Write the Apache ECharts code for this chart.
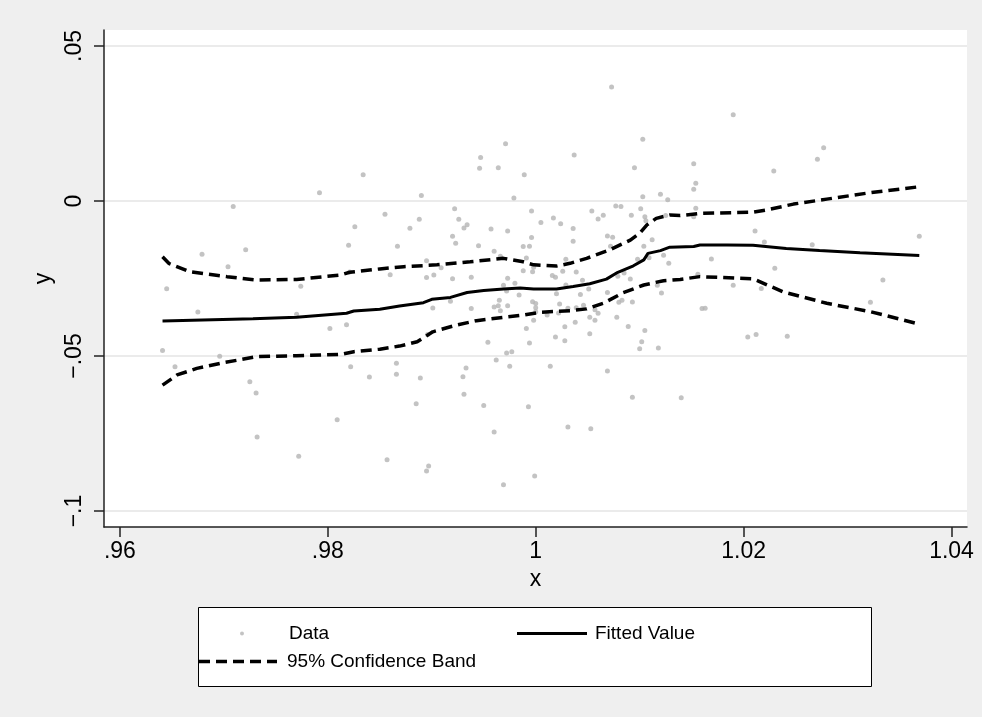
<!DOCTYPE html>
<html><head><meta charset="utf-8">
<script src="https://cdn.jsdelivr.net/npm/echarts@6/dist/echarts.min.js"></script>
<style>html,body{margin:0;padding:0;background:#efefef;}#c{width:982px;height:717px;}</style>
</head><body><div id="c"></div>
<script>
const xTicks = [0.96, 0.98, 1.00, 1.02, 1.04];
const yTicks = [-0.1, -0.05, 0, 0.05];
const xRange = [0.95847, 1.04149];
const yRange = [-0.10516, 0.05516];

const dataX = [
0.9834,0.9792,0.9709,0.9826,0.9820,0.9721,0.9679,0.9704,
0.9645,0.9675,0.9774,0.9770,0.9821,0.9802,0.9818,0.9641,0.9696,0.9653,0.9822,0.9840,0.9725,0.9731,0.9809,0.9732,0.9772,
1.0073,1.0103,0.9971,0.9947,0.9946,0.9964,0.9989,1.0037,1.0095,0.9890,0.9979,1.0103,1.0120,1.0127,0.9855,0.9888,0.9879,0.9867,0.9922,0.9926,
0.9934,0.9931,0.9920,0.9923,0.9945,0.9957,0.9973,0.9960,0.9966,0.9895,0.9996,1.0005,1.0017,1.0024,1.0036,1.0036,0.9996,0.9988,0.9994,0.9991,
1.0054,1.0060,1.0065,1.0077,1.0082,1.0069,1.0074,1.0092,1.0101,1.0105,1.0106,1.0112,1.0104,1.0072,1.0029,1.0109,1.0123,1.0098,0.9909,0.9998,1.0128,
0.9860,0.9895,0.9902,0.9920,0.9938,0.9973,0.9969,0.9980,0.9972,0.9984,0.9988,0.9997,1.0016,1.0026,1.0019,1.0039,1.0029,1.0045,1.0051,1.0043,1.0020,1.0069,1.0079,1.0085,1.0091,1.0117,1.0121,
0.9918,0.9901,0.9938,0.9965,0.9964,0.9960,0.9966,0.9973,0.9997,1.0000,
1.0000,1.0000,1.0023,1.0031,1.0039,1.0046,1.0057,1.0060,1.0052,1.0057,
1.0022,1.0011,0.9998,0.9991,1.0038,1.0028,1.0019,1.0028,1.0052,0.9994,
0.9954,1.0078,1.0089,1.0093,1.0080,1.0083,1.0105,1.0102,1.0100,1.0118,
0.9896,0.9866,0.9866,0.9889,0.9885,0.9930,0.9933,0.9931,0.9962,0.9972,
0.9977,0.9975,1.0014,0.9950,0.9993,0.9960,1.0031,1.0053,1.0069,1.0093,
0.9857,0.9897,0.9895,0.9999,0.9969,
1.0190,1.0277,1.0271,1.0229,1.0152,1.0154,1.0152,1.0154,1.0152,1.0125,
1.0211,1.0220,1.0266,1.0369,1.0169,1.0230,1.0156,1.0190,1.0217,1.0160,
1.0163,1.0204,1.0212,1.0242,1.0322,1.0334,1.0140
];
const dataY = [
0.0085,0.0027,-0.0018,-0.0083,-0.0143,-0.0157,-0.0172,-0.0212,
-0.0283,-0.0358,-0.0275,-0.0365,-0.0229,-0.0411,-0.0399,-0.0482,-0.0501,-0.0535,-0.0535,-0.0568,-0.0583,-0.0619,-0.0706,-0.0761,-0.0823,
0.0368,0.0199,0.0185,0.0140,0.0106,0.0107,0.0085,0.0148,0.0107,0.0018,0.0010,0.0014,0.0022,0.0004,-0.0043,-0.0059,-0.0088,-0.0146,-0.0025,-0.0059,
-0.0077,-0.0087,-0.0114,-0.0136,-0.0144,-0.0090,-0.0097,-0.0162,-0.0178,-0.0193,-0.0032,-0.0069,-0.0055,-0.0073,-0.0089,-0.0130,-0.0118,-0.0147,-0.0146,-0.0184,
-0.0032,-0.0058,-0.0046,-0.0016,-0.0018,-0.0113,-0.0117,-0.0046,-0.0025,-0.0051,-0.0064,-0.0125,-0.0146,-0.0146,-0.0188,-0.0183,-0.0175,-0.0188,-0.0215,-0.0214,-0.0201,
-0.0238,-0.0247,-0.0239,-0.0251,-0.0246,-0.0249,-0.0272,-0.0265,-0.0290,-0.0303,-0.0225,-0.0228,-0.0240,-0.0227,-0.0246,-0.0229,-0.0271,-0.0256,-0.0284,-0.0302,-0.0299,-0.0295,-0.0243,-0.0232,-0.0252,-0.0272,-0.0297,
-0.0323,-0.0345,-0.0347,-0.0320,-0.0338,-0.0342,-0.0354,-0.0338,-0.0325,-0.0331,
-0.0344,-0.0357,-0.0332,-0.0346,-0.0344,-0.0336,-0.0351,-0.0362,-0.0375,-0.0385,
-0.0361,-0.0368,-0.0385,-0.0411,-0.0391,-0.0406,-0.0439,-0.0451,-0.0428,-0.0458,
-0.0456,-0.0375,-0.0405,-0.0326,-0.0327,-0.0320,-0.0418,-0.0454,-0.0477,-0.0474,
-0.0431,-0.0523,-0.0559,-0.0571,-0.0654,-0.0567,-0.0539,-0.0623,-0.0513,-0.0490,
-0.0486,-0.0533,-0.0533,-0.0660,-0.0664,-0.0745,-0.0729,-0.0735,-0.0548,-0.0633,
-0.0835,-0.0855,-0.0871,-0.0887,-0.0915,
0.0278,0.0172,0.0135,0.0097,0.0120,0.0057,0.0038,-0.0023,-0.0051,-0.0047,
-0.0097,-0.0132,-0.0141,-0.0114,-0.0187,-0.0217,-0.0236,-0.0272,-0.0282,-0.0347,
-0.0346,-0.0439,-0.0431,-0.0436,-0.0327,-0.0255,-0.0635
];

const fitX = [0.9641,0.9728,0.9770,0.9818,0.9825,0.9850,0.9869,0.9892,0.9900,0.9918,0.9934,0.9950,0.9969,0.9985,0.9998,1.0020,1.0036,1.0052,1.0068,1.0079,1.0094,1.0104,1.0108,1.0120,1.0129,1.0152,1.0158,1.0184,1.0209,1.0241,1.0273,1.0312,1.0369];
const fitY = [-0.0387,-0.0380,-0.0375,-0.0362,-0.0355,-0.0349,-0.0339,-0.0328,-0.0317,-0.0311,-0.0295,-0.0289,-0.0284,-0.0281,-0.0284,-0.0284,-0.0276,-0.0267,-0.0252,-0.0230,-0.0209,-0.0190,-0.0169,-0.0160,-0.0149,-0.0147,-0.0142,-0.0142,-0.0143,-0.0153,-0.0160,-0.0167,-0.0176];

const upX = [0.9641,0.9647,0.9667,0.9703,0.9732,0.9770,0.9812,0.9821,0.9850,0.9873,0.9905,0.9937,0.9969,0.9988,0.9998,1.0020,1.0033,1.0049,1.0071,1.0091,1.0100,1.0107,1.0116,1.0129,1.0139,1.0158,1.0209,1.0222,1.0248,1.0280,1.0318,1.0369];
const upY = [-0.0180,-0.0201,-0.0228,-0.0244,-0.0255,-0.0253,-0.0239,-0.0230,-0.0219,-0.0212,-0.0206,-0.0196,-0.0185,-0.0196,-0.0206,-0.0210,-0.0201,-0.0185,-0.0158,-0.0126,-0.0104,-0.0077,-0.0056,-0.0045,-0.0047,-0.0040,-0.0036,-0.0029,-0.0010,0.0006,0.0025,0.0046];

const loX = [0.9641,0.9655,0.9674,0.9699,0.9732,0.9770,0.9812,0.9825,0.9850,0.9869,0.9886,0.9901,0.9924,0.9943,0.9969,0.9988,1.0004,1.0033,1.0049,1.0065,1.0084,1.0104,1.0123,1.0139,1.0158,1.0209,1.0238,1.0280,1.0322,1.0369];
const loY = [-0.0594,-0.0561,-0.0540,-0.0522,-0.0502,-0.0499,-0.0495,-0.0486,-0.0478,-0.0468,-0.0454,-0.0422,-0.0400,-0.0386,-0.0375,-0.0368,-0.0359,-0.0354,-0.0348,-0.0330,-0.0296,-0.0271,-0.0257,-0.0253,-0.0244,-0.0251,-0.0293,-0.0330,-0.0357,-0.0397];

const seriesNames = ['Data', 'Fitted Value', '95% Confidence Band'];

function zip(a, b) { return a.map((v, i) => [v, b[i]]); }
function fmt(v) {
  let s = String(parseFloat(Number(v).toFixed(3)));
  s = s.replace(/^(-?)0\./, '$1.');
  return s.replace('-', '\u2212');
}

const FONT = '"Liberation Sans", Arial, Helvetica, sans-serif';
const dash = [11, 6];
const dashIcon = 'path://M0,0h11v3.5h-11zM17,0h11v3.5h-11zM34,0h11v3.5h-11zM51,0h11v3.5h-11zM68,0h10v3.5h-10z';

const chart = echarts.init(document.getElementById('c'), null, {renderer: 'canvas'});
chart.setOption({
  animation: false,
  backgroundColor: '#efefef',
  textStyle: {fontFamily: FONT},
  graphic: [{
    type: 'rect', z: 0,
    shape: {x: 198.5, y: 607.5, width: 673, height: 79},
    style: {fill: '#ffffff', stroke: '#000000', lineWidth: 1}
  }],
  grid: {left: 104, top: 30, width: 863, height: 497, show: true, backgroundColor: '#ffffff', borderWidth: 0},
  xAxis: {
    type: 'value', min: xRange[0], max: xRange[1],
    name: 'x', nameLocation: 'middle', nameGap: 40,
    nameTextStyle: {fontSize: 23, color: '#000', fontFamily: FONT},
    axisLine: {show: true, onZero: false, lineStyle: {color: '#222', width: 1.5}},
    axisTick: {show: true, length: 10, customValues: xTicks, lineStyle: {color: '#222', width: 1.5}},
    axisLabel: {customValues: xTicks, formatter: fmt, fontSize: 23, color: '#000', margin: 13, fontFamily: FONT},
    splitLine: {show: false}
  },
  yAxis: {
    type: 'value', min: yRange[0], max: yRange[1],
    name: 'y', nameLocation: 'middle', nameGap: 39, nameRotate: 90,
    nameTextStyle: {fontSize: 23, color: '#000', fontFamily: FONT},
    axisLine: {show: true, onZero: false, lineStyle: {color: '#222', width: 1.5}},
    axisTick: {show: true, length: 10, customValues: yTicks, lineStyle: {color: '#222', width: 1.5}},
    axisLabel: {customValues: yTicks, formatter: fmt, rotate: 90, fontSize: 23, color: '#000', margin: 18, fontFamily: FONT},
    splitLine: {show: true, lineStyle: {color: '#e4e4e4', width: 1.5}}
  },
  legend: [
    {data: [{name: seriesNames[0], icon: 'circle'}], left: 240, top: 624, padding: 0, itemWidth: 4, itemHeight: 4,
     textStyle: {fontSize: 19, color: '#000', fontFamily: FONT, padding: [0, 0, 0, 40]}},
    {data: [{name: seriesNames[1], icon: 'rect'}], left: 517, top: 624, padding: 0, itemWidth: 70, itemHeight: 3,
     itemStyle: {color: '#000', borderWidth: 0},
     textStyle: {fontSize: 19, color: '#000', fontFamily: FONT, padding: [0, 0, 0, 3]}},
    {data: [{name: seriesNames[2], icon: dashIcon}], left: 199, top: 652, padding: 0, itemWidth: 78, itemHeight: 3.5,
     itemStyle: {color: '#000', borderWidth: 0},
     textStyle: {fontSize: 19, color: '#000', fontFamily: FONT, padding: [0, 0, 0, 5]}}
  ],
  series: [
    {name: seriesNames[0], type: 'scatter', data: zip(dataX, dataY), symbolSize: 5,
     itemStyle: {color: '#b4b4b4'}, z: 2},
    {name: seriesNames[2], type: 'line', data: zip(upX, upY), showSymbol: false, symbol: 'none',
     lineStyle: {color: '#000', width: 3.5, type: dash}, itemStyle: {color: '#000'}, z: 3},
    {name: seriesNames[2], type: 'line', data: zip(loX, loY), showSymbol: false, symbol: 'none',
     lineStyle: {color: '#000', width: 3.5, type: dash}, itemStyle: {color: '#000'}, z: 3},
    {name: seriesNames[1], type: 'line', data: zip(fitX, fitY), showSymbol: false, symbol: 'none',
     lineStyle: {color: '#000', width: 3}, itemStyle: {color: '#000'}, z: 4}
  ]
});
</script></body></html>
